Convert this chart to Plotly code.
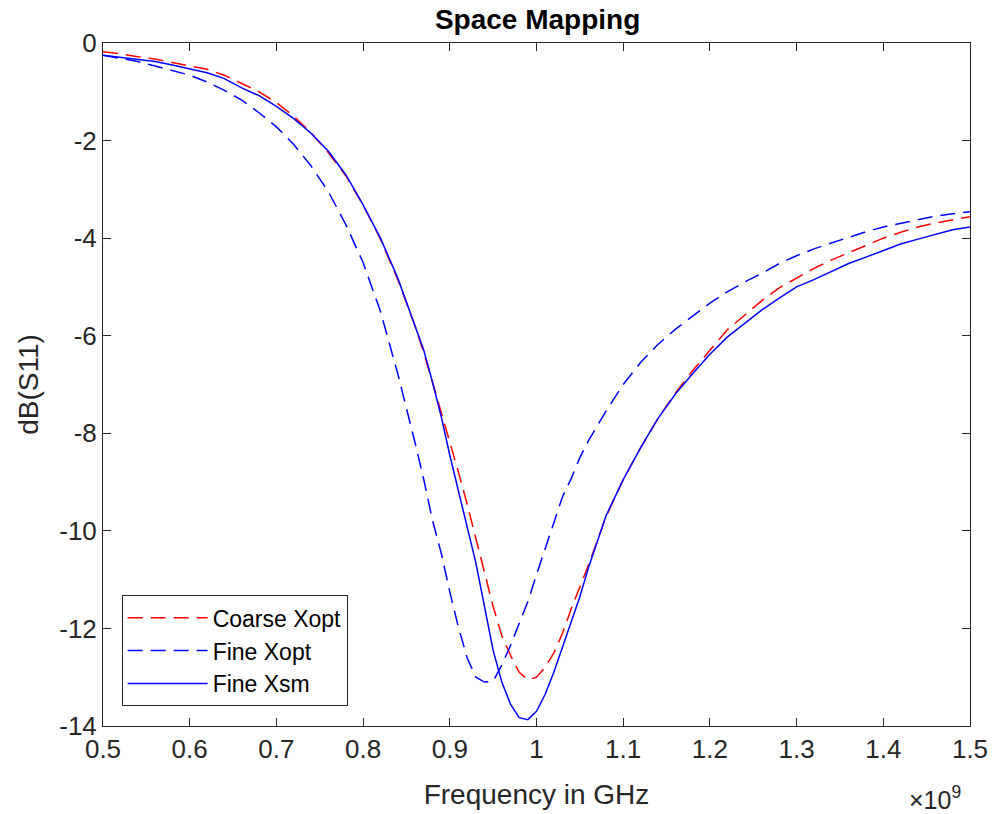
import plotly.graph_objects as go

freq_ghz = [0.50, 0.52, 0.54, 0.56, 0.58, 0.60, 0.62, 0.64, 0.66, 0.68, 0.70, 0.72, 0.74, 0.76, 0.78,
            0.80, 0.82, 0.84, 0.86, 0.87, 0.88, 0.89, 0.90, 0.91, 0.92, 0.93, 0.94, 0.95, 0.96, 0.97,
            0.98, 0.99, 1.00, 1.01, 1.02, 1.03, 1.04, 1.05, 1.06, 1.08, 1.10, 1.12, 1.14, 1.16, 1.18,
            1.20, 1.22, 1.24, 1.26, 1.28, 1.30, 1.32, 1.34, 1.36, 1.38, 1.40, 1.42, 1.44, 1.46, 1.48, 1.50]

coarse_xopt = [-0.18, -0.22, -0.28, -0.33, -0.40, -0.47, -0.54, -0.66, -0.83, -1.00, -1.22, -1.50, -1.84, -2.25, -2.72,
               -3.32, -4.02, -4.85, -5.80, -6.35, -6.95, -7.55, -8.15, -8.80, -9.45, -10.15, -10.85, -11.55, -12.15, -12.55,
               -12.90, -13.05, -13.00, -12.80, -12.50, -12.10, -11.60, -11.15, -10.70, -9.72, -8.95, -8.30, -7.70, -7.18, -6.72,
               -6.30, -5.88, -5.58, -5.28, -5.02, -4.82, -4.62, -4.45, -4.30, -4.15, -4.00, -3.88, -3.77, -3.69, -3.62, -3.56]

fine_xopt = [-0.25, -0.32, -0.38, -0.47, -0.56, -0.66, -0.80, -0.97, -1.17, -1.43, -1.72, -2.08, -2.52, -3.05, -3.72,
             -4.50, -5.50, -6.78, -8.20, -8.95, -9.78, -10.45, -11.25, -11.98, -12.60, -13.00, -13.10, -13.08, -12.75, -12.35,
             -11.90, -11.45, -10.90, -10.38, -9.82, -9.30, -8.93, -8.50, -8.15, -7.55, -7.00, -6.55, -6.18, -5.87, -5.60,
             -5.33, -5.10, -4.90, -4.72, -4.52, -4.36, -4.22, -4.10, -3.98, -3.87, -3.77, -3.70, -3.62, -3.55, -3.50, -3.46]

fine_xsm = [-0.25, -0.29, -0.33, -0.38, -0.45, -0.53, -0.61, -0.73, -0.92, -1.08, -1.30, -1.55, -1.85, -2.22, -2.70,
            -3.32, -4.00, -4.82, -5.78, -6.30, -6.95, -7.65, -8.45, -9.20, -9.95, -10.65, -11.55, -12.45, -13.10, -13.55,
            -13.83, -13.87, -13.70, -13.35, -12.90, -12.38, -11.85, -11.35, -10.75, -9.70, -8.95, -8.30, -7.70, -7.20, -6.78,
            -6.38, -6.03, -5.75, -5.47, -5.23, -5.00, -4.85, -4.68, -4.52, -4.39, -4.25, -4.12, -4.02, -3.92, -3.83, -3.77]

x_tick_vals_ghz = [0.5, 0.6, 0.7, 0.8, 0.9, 1.0, 1.1, 1.2, 1.3, 1.4, 1.5]
x_tick_text = ["0.5", "0.6", "0.7", "0.8", "0.9", "1", "1.1", "1.2", "1.3", "1.4", "1.5"]
y_tick_vals = [0, -2, -4, -6, -8, -10, -12, -14]
y_tick_text = ["0", "-2", "-4", "-6", "-8", "-10", "-12", "-14"]

freq_hz = [f * 1e9 for f in freq_ghz]

axis_color = "#262626"
font_family = "Liberation Sans, Arial, Helvetica, sans-serif"
dash_style = "15px,8px"

fig = go.Figure()
fig.add_trace(go.Scatter(x=freq_hz, y=coarse_xopt, mode="lines", name="Coarse Xopt",
                         legendgroup="a", line=dict(color="#FF0000", width=1.5, dash=dash_style)))
fig.add_trace(go.Scatter(x=freq_hz, y=fine_xopt, mode="lines", name="Fine Xopt",
                         legendgroup="b", line=dict(color="#0000FF", width=1.5, dash=dash_style)))
fig.add_trace(go.Scatter(x=freq_hz, y=fine_xsm, mode="lines", name="Fine Xsm",
                         legendgroup="c", line=dict(color="#0000FF", width=1.5)))

fig.update_layout(
    width=993, height=814,
    paper_bgcolor="white", plot_bgcolor="white",
    margin=dict(l=103, r=23, t=43, b=88, autoexpand=False),
    font=dict(family=font_family, size=26, color=axis_color),
    title=dict(text="<b>Space Mapping</b>", x=0.5414, xanchor="center", y=0.976, yanchor="middle",
               font=dict(family=font_family, size=28, color="black")),
    showlegend=True,
    legend=dict(x=0.0215, y=0.029, xanchor="left", yanchor="bottom",
                bgcolor="white", bordercolor=axis_color, borderwidth=1,
                font=dict(family=font_family, size=23, color="black"),
                tracegroupgap=3, traceorder="normal", itemwidth=80),
)

fig.update_xaxes(
    range=[0.5e9, 1.5e9], tickvals=[v * 1e9 for v in x_tick_vals_ghz], ticktext=x_tick_text,
    showline=True, linecolor=axis_color, linewidth=1, mirror="allticks", automargin=False,
    ticks="inside", ticklen=8, tickcolor=axis_color, showgrid=False, zeroline=False,
    title=dict(text="Frequency in GHz", font=dict(size=28, color=axis_color), standoff=21),
    tickfont=dict(size=26, color=axis_color),
)
fig.update_yaxes(
    range=[-14, 0], tickvals=y_tick_vals, ticktext=y_tick_text,
    showline=True, linecolor=axis_color, linewidth=1, mirror="allticks", automargin=False,
    ticks="inside", ticklen=8, tickcolor=axis_color, showgrid=False, zeroline=False,
    title=dict(text="dB(S11)", font=dict(size=28, color=axis_color), standoff=12),
    tickfont=dict(size=26, color=axis_color),
)

fig.add_annotation(text="×10<sup>9</sup>", xref="paper", yref="paper", x=0.992, y=-0.106,
                   xanchor="right", yanchor="middle", showarrow=False,
                   font=dict(family=font_family, size=25, color=axis_color))

fig.write_html("out.html")
